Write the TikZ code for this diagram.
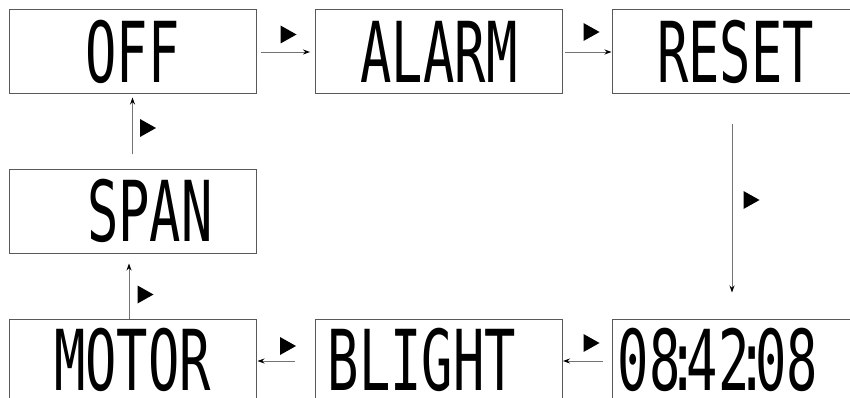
\documentclass[tikz,border=0pt]{standalone}
\usepackage{fontspec}
\usepackage{graphicx}
\newfontfamily\lcdfont{DejaVu Sans Mono}
\usetikzlibrary{arrows.meta}
\newcommand{\lcd}[1]{\scalebox{0.62}[1]{#1}}
\newcommand{\lcdlow}[1]{\raisebox{3pt}{\lcd{#1}}}
\tikzset{
    x=1pt, y=-1pt,
    display/.style={draw=black!65, line width=1pt, rectangle, inner sep=0pt,
        minimum width=247pt, minimum height=84pt,
        font=\lcdfont\fontsize{84}{84}\selectfont},
    flow/.style={draw=black!55, line width=0.9pt,
        -{Stealth[length=7pt,width=5pt,color=black]}},
    stepmark/.pic={\fill[black] (-8,-9) -- (8,0) -- (-8,9) -- cycle;}
}

\begin{document}
\begin{tikzpicture}
    \useasboundingbox (0,0) rectangle (850,398);
    \clip (0,0) rectangle (850,398);
    \node[display] (off) at (132.5, 52) {\lcd{OFF}};
    \node[display] (alarm) at (439, 52) {\lcd{ALARM}};
    \node[display] (reset) at (735.5, 52) {\lcd{RESET}};
    \node[display] (span) at (132.5, 211) {\hspace*{35pt}\lcd{SPAN}};
    \node[display] (motor) at (132.5, 361) {\lcdlow{MOTOR}};
    \node[display] (blight) at (439, 361) {\lcdlow{BLIGHT}\hspace*{34pt}};
    \node[display] (clock) at (735.5, 361) {\lcdlow{08\makebox[10pt]{:}42\makebox[10pt]{:}08}\hspace*{35pt}};
    % connectors
    \draw[flow, shorten <=4pt, shorten >=5pt] (off) -- (alarm);
    \draw[flow, shorten <=2pt] (alarm) -- (reset);
    \draw[flow, shorten <=30pt, shorten >=26pt] ([xshift=-3.5pt]reset.south) -- ([xshift=-3.5pt]clock.north);
    \draw[flow, shorten <=9pt] (clock) -- (blight);
    \draw[flow, shorten <=20pt, shorten >=1pt] (blight) -- (motor);
    \draw[flow, shorten >=10pt] ([xshift=-3.5pt]motor.north) -- ([xshift=-3.5pt]span.south);
    \draw[flow, shorten <=14pt, shorten >=3pt] (span.north) -- (off.south);
    % step markers
    \pic at (288.5, 34.5) {stepmark};
    \pic at (591.5, 32) {stepmark};
    \pic at (148, 128) {stepmark};
    \pic at (145.5, 294.5) {stepmark};
    \pic at (751.5, 200) {stepmark};
    \pic at (288, 346) {stepmark};
    \pic at (591.5, 343) {stepmark};
\end{tikzpicture}
\end{document}
